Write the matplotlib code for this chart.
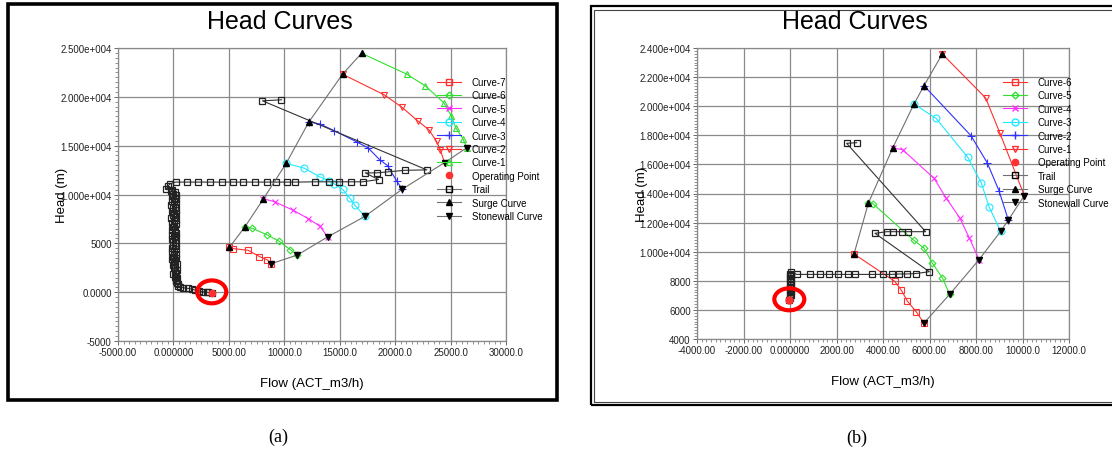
import numpy as np
import matplotlib.pyplot as plt
from matplotlib.lines import Line2D
from matplotlib.patches import Ellipse, Rectangle
from matplotlib.ticker import MultipleLocator

plt.rcParams['font.family'] = ['Liberation Sans', 'DejaVu Sans']

# ---------------- panel (a) ----------------
a_xticks = [-5000, 0, 5000, 10000, 15000, 20000, 25000, 30000]
a_xticklabels = ['-5000.00', '0.000000', '5000.00', '10000.0', '15000.0', '20000.0', '25000.0', '30000.0']
a_yticks = [-5000, 0, 5000, 10000, 15000, 20000, 25000]
a_yticklabels = ['-5000', '0.0000', '5000', '1.000e+004', '1.500e+004', '2.000e+004', '2.500e+004']

a_c7_x = [5054, 5415, 6742, 7762, 8484, 8784]
a_c7_y = [4600, 4459, 4286, 3643, 3296, 2900]
a_c6_x = [6435, 7130, 8484, 9506, 10532, 11191]
a_c6_y = [6663, 6531, 5847, 5235, 4357, 3810]
a_c5_x = [8123, 9142, 10830, 12184, 13240, 13899]
a_c5_y = [9561, 9255, 8367, 7520, 6735, 5650]
a_c4_x = [10171, 11823, 13204, 14052, 14503, 15253, 15948, 16336, 17266]
a_c4_y = [13194, 12684, 11806, 11398, 11092, 10541, 9592, 8949, 7755]
a_c3_x = [12214, 13240, 14503, 16543, 17572, 18592, 19314, 20153, 20641]
a_c3_y = [17418, 17214, 16531, 15378, 14765, 13571, 12959, 11357, 10544]
a_c2_x = [15253, 19016, 20641, 22021, 23041, 23736, 24070, 24458]
a_c2_y = [22316, 20204, 18908, 17551, 16633, 15439, 14592, 13265]
a_c1_x = [16968, 21055, 22715, 24368, 25062, 25477, 26109, 26471]
a_c1_y = [24459, 22316, 21122, 19418, 18061, 16806, 15714, 14796]

a_surge_x = [5054, 6435, 8123, 10171, 12214, 15253, 16968]
a_surge_y = [4600, 6663, 9561, 13194, 17418, 22316, 24459]
a_stone_x = [8784, 11191, 13899, 17266, 20641, 24458, 26471]
a_stone_y = [2900, 3810, 5650, 7755, 10544, 13265, 14796]

# trail history: upper tracks, the drop near zero flow, then the run out to the operating point
a_trail_x = [9748, 8033, 22860, 20910, 19314, 18348, 17300, 18501, 17057, 16001,
             14954, 13989, 12789, 10983, 10225, 9269, 8420, 7373, 6318, 5352,
             4359, 3312, 2256, 1200, 208, -271, -451, -632, -100]
a_trail_y = [19694, 19592, 12520, 12480, 12316, 12214, 12214, 11530, 11300, 11300,
             11300, 11300, 11300, 11270, 11270, 11270, 11270, 11270, 11270, 11270,
             11270, 11270, 11270, 11270, 11270, 11122, 10918, 10612, 10510]
a_drop_x = [-200, 150, -50, 250, -150, 100, 200, -100, 50, 250,
            -200, 150, 0, 220, -120, 80, 260, -80, 130, -180,
            200, 30, -140, 240, 60, -60, 180, -170, 110, 270,
            -90, 20, 230, -130, 160, 0, 250, -60, 120, -150,
            210, 40, -100, 270, 90, -40, 190, -120, 140, 30,
            280, -20, 170, 60, 300, 100, 220, 0, 260, 140,
            310, 200]
a_drop_y = [10400, 10250, 10100, 9950, 9800, 9650, 9500, 9350, 9200, 9050,
            8900, 8750, 8600, 8450, 8300, 8150, 8000, 7850, 7700, 7550,
            7400, 7250, 7100, 6950, 6800, 6650, 6500, 6350, 6200, 6050,
            5900, 5750, 5600, 5450, 5300, 5150, 5000, 4850, 4700, 4550,
            4400, 4250, 4100, 3950, 3800, 3650, 3500, 3350, 3200, 3050,
            2900, 2750, 2600, 2450, 2300, 2150, 2000, 1850, 1700, 1550,
            1400, 1250]
a_tail_x = [250, 300, 380, 450, 605, 900, 1354, 1700, 1958, 2300, 2708, 3000, 3159, 3460]
a_tail_y = [1100, 950, 800, 650, 520, 450, 377, 300, 204, 120, 31, 0, -31, -130]

a_op_x, a_op_y = 3460, -130
a_ring = (3457, 31, 2617, 2347)

# ---------------- panel (b) ----------------
b_xticks = [-4000, -2000, 0, 2000, 4000, 6000, 8000, 10000, 12000]
b_xticklabels = ['-4000.00', '-2000.00', '0.000000', '2000.00', '4000.00', '6000.00', '8000.00', '10000.0', '12000.0']
b_yticks = [4000, 6000, 8000, 10000, 12000, 14000, 16000, 18000, 20000, 22000, 24000]
b_yticklabels = ['4000', '6000', '8000', '1.000e+004', '1.200e+004', '1.400e+004', '1.600e+004',
                 '1.800e+004', '2.000e+004', '2.200e+004', '2.400e+004']

b_c6_x = [2753, 4502, 4774, 5046, 5433, 5763]
b_c6_y = [9842, 7966, 7389, 6612, 5856, 5100]
b_c5_x = [3368, 3583, 5320, 5763, 6120, 6551, 6867]
b_c5_y = [13326, 13278, 10784, 10254, 9223, 8213, 7072]
b_c4_x = [4417, 4846, 6194, 6724, 7312, 7713, 8129]
b_c4_y = [17127, 17010, 15045, 13670, 12296, 10942, 9450]
b_c3_x = [5333, 6280, 7643, 8229, 8559, 9061]
b_c3_y = [20151, 19167, 16488, 14722, 13093, 11402]
b_c2_x = [5763, 7785, 8487, 8989, 9390]
b_c2_y = [21409, 17972, 16096, 14192, 12179]
b_c1_x = [6551, 8416, 9032, 10078]
b_c1_y = [23588, 20564, 18137, 13852]

b_surge_x = [2753, 3368, 4417, 5333, 5763, 6551]
b_surge_y = [9842, 13326, 17127, 20151, 21409, 23588]
b_stone_x = [5763, 6867, 8129, 9061, 9390, 10078]
b_stone_y = [5100, 7072, 9450, 11402, 12179, 13852]

b_trail_x = [2867, 2437, 5835, 5090, 4803, 4444, 4158, 3656, 5993, 5419,
             5019, 4701, 4374, 4013, 3514, 2796, 2508, 2077, 1690, 1290,
             860, 288]
b_trail_y = [17491, 17450, 11375, 11375, 11375, 11375, 11375, 11264, 8625, 8500,
             8470, 8470, 8440, 8440, 8440, 8440, 8440, 8440, 8440, 8440,
             8440, 8440]
b_drop_x = [40, 20, 50, 10, 40, 20, 50, 10, 40, 20,
            50, 10, 40, 20, 50, 10, 40, 20, -30]
b_drop_y = [8600, 8500, 8400, 8300, 8200, 8100, 8000, 7900, 7800, 7700,
            7600, 7500, 7400, 7300, 7200, 7100, 7000, 6850, 6680]

b_op_x, b_op_y = -30, 6680
b_ring = (-30, 6729, 1290, 1512)

RED, GREEN, MAG, CYAN, BLUE = '#ff3030', '#30e030', '#ff30ff', '#20e8ff', '#3030ff'
GREY = '#707070'

fig = plt.figure(figsize=(11.12, 4.52), dpi=100)


def px_axes(x0, y0, x1, y1):
    W, H = 1112, 452
    return fig.add_axes([x0 / W, 1 - y1 / H, (x1 - x0) / W, (y1 - y0) / H])


def style_axes(ax, xlim, ylim, xt, xtl, yt, ytl, xminor, yminor, ylab_x):
    ax.set_xlim(*xlim)
    ax.set_ylim(*ylim)
    ax.set_xticks(xt)
    ax.set_xticklabels(xtl)
    ax.set_yticks(yt)
    ax.set_yticklabels(ytl)
    ax.xaxis.set_minor_locator(MultipleLocator(xminor))
    ax.yaxis.set_minor_locator(MultipleLocator(yminor))
    ax.grid(True, which='major', color='#8a8a8a', lw=0.9, zorder=0)
    ax.set_axisbelow(True)
    for s in ax.spines.values():
        s.set_color('#8a8a8a')
        s.set_linewidth(0.9)
    ax.tick_params(which='major', length=3, width=0.7, color='#666666',
                   labelsize=7, labelcolor='#222222', pad=1.5)
    ax.tick_params(which='minor', length=2, width=0.5, color='#666666')
    ax.set_xlabel('Flow (ACT_m3/h)', fontsize=9.5, labelpad=14)
    ax.set_ylabel('Head (m)', fontsize=9.5)
    ax.yaxis.set_label_coords(ylab_x, 0.5)


def curve(ax, x, y, color, marker, ms=5):
    ax.plot(x, y, color=color, lw=0.8, marker=marker, ms=ms, mfc='none',
            mec=color, mew=0.8, zorder=3)


def legend(ax, names, styles, x_px, y_px):
    handles = []
    for c, m, ms, ls in styles:
        if m == 'op':
            handles.append(Line2D([], [], ls='none', marker='o', ms=4.5, color=RED))
        elif c == 'k':
            handles.append(Line2D([], [], color=GREY, lw=0.8, marker=m, ms=5,
                                  mfc='k' if ls == 'fill' else 'none', mec='k'))
        else:
            handles.append(Line2D([], [], color=c, lw=0.8, marker=m, ms=ms,
                                  mfc='none', mec=c))
    ax.legend(handles, names, loc='upper left',
              bbox_to_anchor=(x_px / 1112, 1 - y_px / 452),
              bbox_transform=fig.transFigure, frameon=False, fontsize=7,
              handlelength=2.5, handletextpad=1.1, labelspacing=0.35,
              borderpad=0, borderaxespad=0)


# ----- draw (a)
ax1 = px_axes(118, 49, 506, 342)
style_axes(ax1, (-5000, 30000), (-5000, 25000), a_xticks, a_xticklabels,
           a_yticks, a_yticklabels, 500, 500, -0.128)
curve(ax1, a_c7_x, a_c7_y, RED, 's')
curve(ax1, a_c6_x, a_c6_y, GREEN, 'D', 3.5)
curve(ax1, a_c5_x, a_c5_y, MAG, 'x')
curve(ax1, a_c4_x, a_c4_y, CYAN, 'o')
curve(ax1, a_c3_x, a_c3_y, BLUE, '+', 6)
curve(ax1, a_c2_x, a_c2_y, RED, 'v')
curve(ax1, a_c1_x, a_c1_y, GREEN, '^')
ax1.plot(a_trail_x + a_drop_x + a_tail_x, a_trail_y + a_drop_y + a_tail_y, color='#333333', lw=0.8,
         marker='s', ms=5, mfc='none', mec='#222222', mew=0.9, zorder=4)
ax1.plot(a_surge_x, a_surge_y, color=GREY, lw=0.8, marker='^', ms=5, mfc='k', mec='k', zorder=5)
ax1.plot(a_stone_x, a_stone_y, color=GREY, lw=0.8, marker='v', ms=5, mfc='k', mec='k', zorder=5)
ax1.plot([a_op_x], [a_op_y], 'o', color=RED, ms=4.5, zorder=6)
ax1.add_patch(Ellipse(a_ring[:2], a_ring[2], a_ring[3], fill=False, ec='red', lw=3, zorder=7))

legend(ax1, ['Curve-7', 'Curve-6', 'Curve-5', 'Curve-4', 'Curve-3', 'Curve-2', 'Curve-1',
             'Operating Point', 'Trail', 'Surge Curve', 'Stonewall Curve'],
       [(RED, 's', 5, ''), (GREEN, 'D', 3.5, ''), (MAG, 'x', 5, ''), (CYAN, 'o', 5, ''),
        (BLUE, '+', 6, ''), (RED, 'v', 5, ''), (GREEN, '^', 5, ''), ('r', 'op', 4.5, ''),
        ('k', 's', 5, ''), ('k', '^', 5, 'fill'), ('k', 'v', 5, 'fill')], 437, 78)

# ----- draw (b)
ax2 = px_axes(697, 49, 1069, 340)
style_axes(ax2, (-4000, 12000), (4000, 24000), b_xticks, b_xticklabels,
           b_yticks, b_yticklabels, 200, 200, -0.132)
curve(ax2, b_c6_x, b_c6_y, RED, 's')
curve(ax2, b_c5_x, b_c5_y, GREEN, 'D', 3.5)
curve(ax2, b_c4_x, b_c4_y, MAG, 'x')
curve(ax2, b_c3_x, b_c3_y, CYAN, 'o')
curve(ax2, b_c2_x, b_c2_y, BLUE, '+', 6)
curve(ax2, b_c1_x, b_c1_y, RED, 'v')
ax2.plot(b_trail_x + b_drop_x, b_trail_y + b_drop_y, color='#333333', lw=0.8,
         marker='s', ms=5, mfc='none', mec='#222222', mew=0.9, zorder=4)
ax2.plot(b_surge_x, b_surge_y, color=GREY, lw=0.8, marker='^', ms=5, mfc='k', mec='k', zorder=5)
ax2.plot(b_stone_x, b_stone_y, color=GREY, lw=0.8, marker='v', ms=5, mfc='k', mec='k', zorder=5)
ax2.plot([b_op_x], [b_op_y], 'o', color=RED, ms=5, zorder=6)
ax2.add_patch(Ellipse(b_ring[:2], b_ring[2], b_ring[3], fill=False, ec='red', lw=3, zorder=7))

legend(ax2, ['Curve-6', 'Curve-5', 'Curve-4', 'Curve-3', 'Curve-2', 'Curve-1',
             'Operating Point', 'Trail', 'Surge Curve', 'Stonewall Curve'],
       [(RED, 's', 5, ''), (GREEN, 'D', 3.5, ''), (MAG, 'x', 5, ''), (CYAN, 'o', 5, ''),
        (BLUE, '+', 6, ''), (RED, 'v', 5, ''), ('r', 'op', 4.5, ''),
        ('k', 's', 5, ''), ('k', '^', 5, 'fill'), ('k', 'v', 5, 'fill')], 1003, 78)

# titles, frames and captions
fig.text(280 / 1112, 1 - 22 / 452, 'Head Curves', ha='center', va='center', fontsize=18)
fig.text(855 / 1112, 1 - 22 / 452, 'Head Curves', ha='center', va='center', fontsize=18)
fig.text(278 / 1112, 1 - 437 / 452, '(a)', ha='center', va='center', fontsize=13,
         family='Liberation Serif')
fig.text(857 / 1112, 1 - 438 / 452, '(b)', ha='center', va='center', fontsize=13,
         family='Liberation Serif')


def frame(x0, y0, x1, y1, lw, color='k'):
    fig.patches.append(Rectangle((x0 / 1112, 1 - y1 / 452), (x1 - x0) / 1112, (y1 - y0) / 452,
                                 transform=fig.transFigure, fill=False, ec=color, lw=lw))


frame(7.5, 5, 557, 400.5, 2.6)
frame(591, 7, 1120, 405.5, 1.6)
frame(594, 10.5, 1120, 403, 0.8, '#444444')

fig.savefig('out.png', dpi=100)
